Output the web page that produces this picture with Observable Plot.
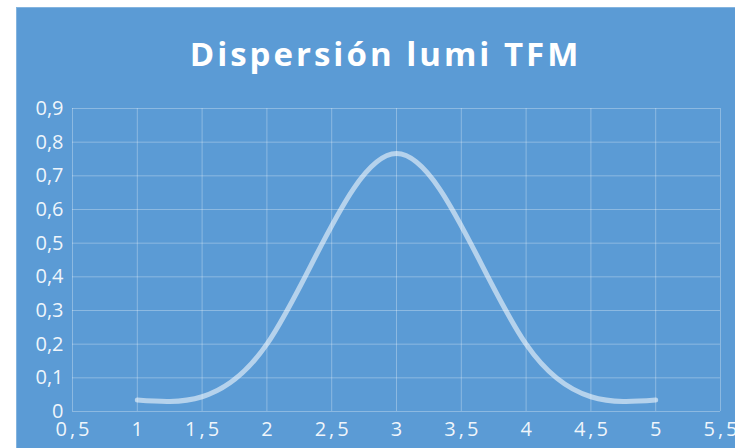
<!DOCTYPE html>
<html>
<head>
<meta charset="utf-8">
<script src="https://cdn.jsdelivr.net/npm/d3@7"></script>
<script src="https://cdn.jsdelivr.net/npm/@observablehq/plot@0.6"></script>
<style>
  html, body { margin: 0; padding: 0; background: #ffffff; width: 735px; height: 448px; overflow: hidden; }
  #chart { position: absolute; left: 16px; top: 7px; width: 719px; height: 441px; background: #5B9BD5; box-shadow: inset 1px 1px 0 rgba(255,255,255,0.25); }
  #title { position: absolute; top: 25px; left: 20px; right: 0; text-align: center; font-family: "Open Sans", sans-serif; font-weight: 700; font-size: 33px; line-height: 44px; letter-spacing: 3px; color: #ffffff; white-space: nowrap; }
  #plot { position: absolute; top: 78px; left: 0; }
  #plot g[aria-label="x-axis tick label"] text { letter-spacing: 3px; }
</style>
</head>
<body>
<div id="chart">
  <div id="title">Dispersión lumi TFM</div>
  <div id="plot"></div>
</div>
<script>
const xValues = [1, 2, 3, 4, 5];
const yValues = [0.034, 0.2, 0.766, 0.2, 0.034];
const xTicks = [0.5, 1, 1.5, 2, 2.5, 3, 3.5, 4, 4.5, 5, 5.5];
const yTicks = [0, 0.1, 0.2, 0.3, 0.4, 0.5, 0.6, 0.7, 0.8, 0.9];

const data = xValues.map((x, i) => ({x, y: yValues[i]}));
const fmt = d => String(d).replace(".", ",");

const chart = Plot.plot({
  width: 719,
  height: 363,
  marginLeft: 56,
  marginRight: 15,
  marginTop: 23,
  marginBottom: 37,
  style: { background: "transparent", color: "#ffffff", fontFamily: "Open Sans, sans-serif", fontSize: "20px", overflow: "visible" },
  x: { domain: [0.5, 5.5], ticks: xTicks, tickFormat: fmt, label: null },
  y: { domain: [0, 0.9], ticks: yTicks, tickFormat: fmt, label: null },
  marks: [
    Plot.gridX(xTicks, { stroke: "#ffffff", strokeOpacity: 0.3, strokeWidth: 1 }),
    Plot.gridY(yTicks, { stroke: "#ffffff", strokeOpacity: 0.3, strokeWidth: 1 }),
    Plot.axisX(xTicks, { tickSize: 0, tickPadding: 10, tickFormat: fmt, fill: "#ffffff", fillOpacity: 0.92, dx: 1.5 }),
    Plot.axisY(yTicks, { tickSize: 0, tickPadding: 9, tickFormat: fmt, fill: "#ffffff", fillOpacity: 0.92 }),
    Plot.line(data, { x: "x", y: "y", curve: "natural", stroke: "#ffffff", strokeOpacity: 0.55, strokeWidth: 5, strokeLinecap: "round" })
  ]
});
document.getElementById("plot").appendChild(chart);
</script>
</body>
</html>
